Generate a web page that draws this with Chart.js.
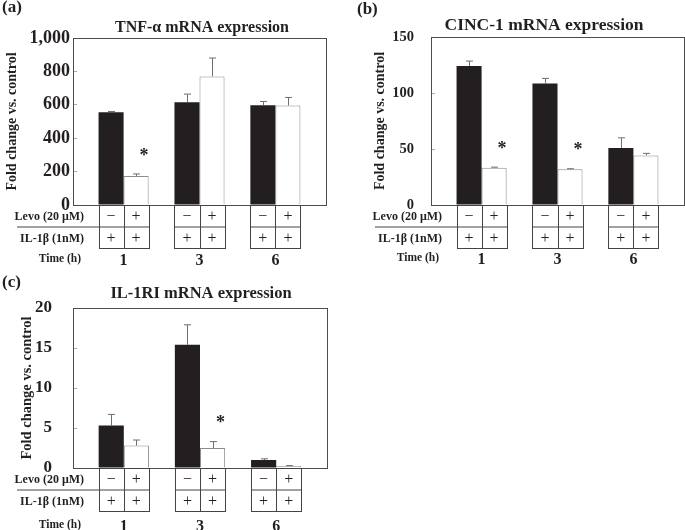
<!DOCTYPE html>
<html>
<head>
<meta charset="utf-8">
<script src="https://cdn.jsdelivr.net/npm/chart.js@4.4.1/dist/chart.umd.min.js"></script>
<style>
  body { margin: 0; background: #fff; }
  #wrap { position: relative; width: 685px; height: 530px; overflow: hidden; }
  canvas { position: absolute; }
</style>
</head>
<body>
<div id="wrap">
  <canvas id="tnf" width="340" height="272" style="left:0;top:0"></canvas>
  <canvas id="cinc" width="345" height="272" style="left:340px;top:0"></canvas>
  <canvas id="il1ri" width="340" height="265" style="left:0;top:265px"></canvas>
</div>
<script>
// shared x layout: three time points, two bars each
var timeLabels = ['1', '3', '6'];
var groupPos = [1, 2, 3];
var levoRow = ['\u2212', '+', '\u2212', '+', '\u2212', '+'];
var il1bRow = ['+', '+', '+', '+', '+', '+'];

// (a) TNF-a
var tnfMinus = [556, 616, 598];
var tnfMinusErr = [4, 48, 22];
var tnfPlus = [174, 770, 596];
var tnfPlusErr = [12, 110, 48];
var tnfSig = [true, false, false];

// (b) CINC-1
var cincMinus = [124, 108.5, 51];
var cincMinusErr = [4.5, 4.5, 9];
var cincPlus = [33.3, 32, 44.3];
var cincPlusErr = [0.5, 0.4, 1.8];
var cincSig = [true, true, false];

// (c) IL-1RI
var ilMinus = [5.3, 15.4, 1.0];
var ilMinusErr = [1.4, 2.5, 0.15];
var ilPlus = [2.8, 2.5, 0.25];
var ilPlusErr = [0.7, 0.8, 0.05];
var ilSig = [false, true, false];

var serif = "'Liberation Serif', 'Times New Roman', serif";
var ink = '#231f20';

function pts(vals) {
  return vals.map(function (v, i) { return { x: groupPos[i], y: v }; });
}

// box, error bars, asterisks and the treatment table under the axis
var panelDecor = {
  id: 'panelDecor',
  afterDatasetsDraw: function (chart, args, o) {
    var ctx = chart.ctx, area = chart.chartArea, ys = chart.scales.y;
    var dark = chart.getDatasetMeta(0).data, light = chart.getDatasetMeta(1).data;
    ctx.save();

    ctx.strokeStyle = '#6e6e6e';
    ctx.lineWidth = 1;
    chart.data.datasets.forEach(function (ds, i) {
      chart.getDatasetMeta(i).data.forEach(function (bar, j) {
        var top = ys.getPixelForValue(ds.data[j].y + ds.errors[j]);
        var x = Math.round(bar.x) + 0.5;
        ctx.beginPath();
        ctx.moveTo(x, bar.y);
        ctx.lineTo(x, top);
        ctx.moveTo(x - 3.5, top);
        ctx.lineTo(x + 3.5, top);
        ctx.stroke();
      });
    });

    ctx.strokeStyle = '#4d4d4d';
    ctx.strokeRect(Math.round(area.left) + 0.5, Math.round(area.top) + 0.5,
      Math.round(area.width), Math.round(area.height));

    ctx.fillStyle = ink;
    ctx.textBaseline = 'middle';

    // significance marks
    ctx.textAlign = 'center';
    ctx.font = 'bold 18px ' + serif;
    var ds1 = chart.data.datasets[1];
    light.forEach(function (bar, j) {
      if (!o.sig[j]) return;
      var top = ys.getPixelForValue(ds1.data[j].y + ds1.errors[j]);
      ctx.fillText('*', bar.x + 8, top - 18);
    });

    // table
    var b = Math.round(area.bottom) + 0.5;
    var rows = [b, b + 21.5, b + 43];
    ctx.strokeStyle = '#444';
    ctx.font = '16px ' + serif;
    dark.forEach(function (d, j) {
      var l = light[j];
      var x0 = Math.round(d.x - d.width / 2) + 0.5;
      var x1 = Math.round(d.x + d.width / 2) + 0.5;
      var x2 = Math.round(l.x + l.width / 2) + 0.5;
      ctx.strokeRect(x0, rows[0], x2 - x0, rows[2] - rows[0]);
      ctx.beginPath();
      ctx.moveTo(x1, rows[0]); ctx.lineTo(x1, rows[2]);
      ctx.moveTo(x0, rows[1]); ctx.lineTo(x2, rows[1]);
      if (j === 0) { ctx.moveTo(area.left - 56, rows[1]); ctx.lineTo(x0, rows[1]); }
      ctx.stroke();
      ctx.fillText(levoRow[2 * j], d.x, (rows[0] + rows[1]) / 2 + 1);
      ctx.fillText(levoRow[2 * j + 1], l.x, (rows[0] + rows[1]) / 2 + 1);
      ctx.fillText(il1bRow[2 * j], d.x, (rows[1] + rows[2]) / 2 + 1);
      ctx.fillText(il1bRow[2 * j + 1], l.x, (rows[1] + rows[2]) / 2 + 1);
    });

    ctx.textAlign = 'right';
    ctx.font = 'bold 12px ' + serif;
    ctx.fillText('Levo (20 \u03bcM)', area.left + 11, (rows[0] + rows[1]) / 2 + 1);
    ctx.fillText('IL-1\u03b2 (1nM)', area.left + 11, (rows[1] + rows[2]) / 2 + 1);
    ctx.font = 'bold 11.5px ' + serif;
    ctx.fillText('Time (h)', area.left + 8, o.timeY);

    ctx.textAlign = 'left';
    ctx.font = 'bold 17px ' + serif;
    ctx.fillText(o.letter, o.letterX, o.letterY);

    ctx.textAlign = 'center';
    ctx.font = 'bold ' + o.titleSize + 'px ' + serif;
    ctx.fillText(o.title, o.titleX, o.titleY);

    ctx.restore();
  }
};

function makePanel(id, p) {
  var canvas = document.getElementById(id);
  return new Chart(canvas, {
    type: 'bar',
    data: {
      datasets: [{
        label: 'Levo -',
        data: pts(p.minus),
        errors: p.minusErr,
        backgroundColor: ink,
        borderWidth: 0
      }, {
        label: 'Levo +',
        data: pts(p.plus),
        errors: p.plusErr,
        backgroundColor: '#ffffff',
        borderColor: '#8c8c8c',
        borderWidth: 1
      }]
    },
    options: {
      responsive: false,
      animation: false,
      devicePixelRatio: 1,
      categoryPercentage: 0.66,
      barPercentage: 1,
      layout: { padding: { top: p.top, right: canvas.width - p.right, left: 0, bottom: 0 } },
      scales: {
        x: {
          type: 'linear',
          offset: false,
          bounds: 'data',
          min: 1 / 3,
          max: 11 / 3,
          afterBuildTicks: function (s) { s.ticks = groupPos.map(function (v) { return { value: v }; }); },
          afterFit: function (s) { s.height = canvas.height - p.bottom; },
          grid: { display: false, offset: false },
          border: { display: false },
          ticks: {
            autoSkip: false,
            maxRotation: 0,
            padding: p.timeY - p.bottom - 16,
            color: ink,
            font: { family: serif, size: 16, weight: 'bold' },
            callback: function (v, i) { return timeLabels[i]; }
          }
        },
        y: {
          min: 0,
          max: p.max,
          afterFit: function (s) { s.width = p.left; },
          border: { display: false },
          grid: { drawOnChartArea: false, tickLength: -4, color: '#aaaaaa' },
          ticks: {
            stepSize: p.step,
            padding: p.tickPad,
            color: ink,
            font: { family: serif, size: p.tickSize, weight: 'bold' }
          },
          title: {
            display: true,
            text: 'Fold change vs. control',
            color: ink,
            font: { family: serif, size: p.ytSize, weight: 'bold' },
            padding: { top: p.ytPad, bottom: 0 }
          }
        }
      },
      plugins: {
        legend: { display: false },
        tooltip: { enabled: false },
        panelDecor: {
          sig: p.sig,
          letter: p.letter, letterX: p.letterX, letterY: p.letterY,
          title: p.title, titleX: p.titleX, titleY: p.titleY, titleSize: p.titleSize,
          timeY: p.timeY
        }
      }
    },
    plugins: [panelDecor]
  });
}

makePanel('tnf', {
  minus: tnfMinus, minusErr: tnfMinusErr, plus: tnfPlus, plusErr: tnfPlusErr, sig: tnfSig,
  max: 1000, step: 200, left: 73, right: 326, top: 38, bottom: 205,
  tickSize: 18, tickPad: 7, ytSize: 14, ytPad: 3.6,
  letter: '(a)', letterX: 2, letterY: 8,
  title: 'TNF-\u03b1 mRNA expression', titleX: 202, titleY: 28, titleSize: 16,
  timeY: 259
});

makePanel('cinc', {
  minus: cincMinus, minusErr: cincMinusErr, plus: cincPlus, plusErr: cincPlusErr, sig: cincSig,
  max: 150, step: 50, left: 91, right: 344, top: 37, bottom: 205,
  tickSize: 14.5, tickPad: 21, ytSize: 14, ytPad: 31.6,
  letter: '(b)', letterX: 17, letterY: 10,
  title: 'CINC-1 mRNA expression', titleX: 204, titleY: 25, titleSize: 17.5,
  timeY: 258
});

makePanel('il1ri', {
  minus: ilMinus, minusErr: ilMinusErr, plus: ilPlus, plusErr: ilPlusErr, sig: ilSig,
  max: 20, step: 5, left: 73, right: 327, top: 43, bottom: 203,
  tickSize: 17, tickPad: 25, ytSize: 14.5, ytPad: 18.3,
  letter: '(c)', letterX: 2, letterY: 18,
  title: 'IL-1RI mRNA expression', titleX: 201, titleY: 29, titleSize: 16.5,
  timeY: 260
});
</script>
</body>
</html>
